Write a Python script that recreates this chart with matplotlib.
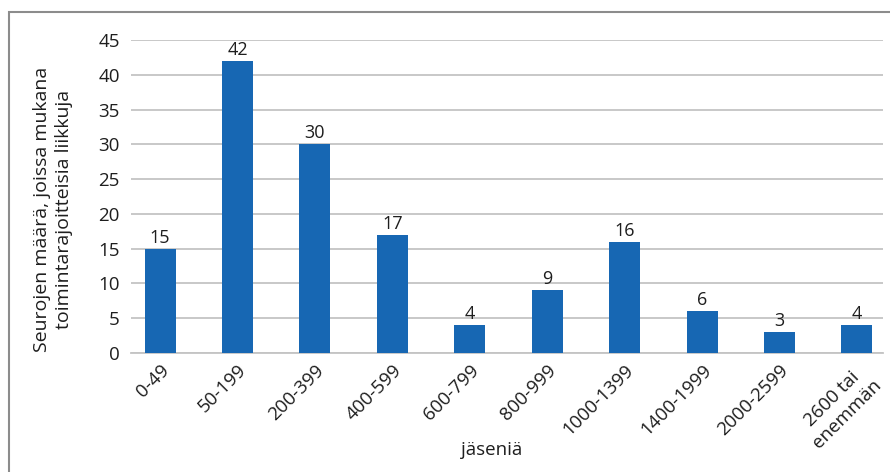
import matplotlib
matplotlib.use("Agg")
import matplotlib.pyplot as plt
from matplotlib.patches import Rectangle

categories = ["0-49", "50-199", "200-399", "400-599", "600-799", "800-999",
              "1000-1399", "1400-1999", "2000-2599", "2600 tai\nenemmän"]
values = [15, 42, 30, 17, 4, 9, 16, 6, 3, 4]
yticks = [0, 5, 10, 15, 20, 25, 30, 35, 40, 45]

plt.rcParams['font.family'] = ['Open Sans', 'DejaVu Sans']

W, H = 890, 472
fig = plt.figure(figsize=(W/100, H/100), dpi=100)
ax = fig.add_axes([131/W, 1-353/H, (883-131)/W, (353-40)/H])

txtc = "#1e1e1e"
color = "#1767B3"
x = list(range(len(categories)))
ax.bar(x, values, width=0.4, color=color, zorder=3)
for xi, v in zip(x, values):
    ax.text(xi, v + 0.3, str(v), ha="center", va="bottom", fontsize=13, color=txtc)

ax.set_xlim(-0.375, 9.336)
ax.set_ylim(0, 45)
ax.set_yticks(yticks)
ax.yaxis.grid(True, color="#c4c4c4", linewidth=1.3, zorder=0)
ax.set_axisbelow(True)
for s in ["top", "right", "left"]:
    ax.spines[s].set_visible(False)
ax.spines["bottom"].set_color("#c4c4c4")
ax.spines["bottom"].set_linewidth(1.3)
ax.tick_params(axis="both", length=0, labelsize=13.5, colors=txtc)
ax.tick_params(axis="y", pad=8)
ax.set_xticks(x)
ax.set_xticklabels(categories, rotation=45, ha="right", rotation_mode="anchor",
                   multialignment="center")
ax.tick_params(axis="x", pad=6)

fig.text(53/W, 1-209/H, "Seurojen määrä, joissa mukana\ntoimintarajoitteisia liikkuja",
         rotation=90, ha="center", va="center", fontsize=14, color=txtc,
         multialignment="center", linespacing=1.35)
fig.text(492/W, 1-450/H, "jäseniä", ha="center", va="center", fontsize=13.5, color=txtc)

fig.patches.append(Rectangle((9/W, -0.1), 1.2, 1.1 - 12/H, transform=fig.transFigure,
                             fill=False, edgecolor="#8c8c8c", linewidth=1.5))

fig.savefig("out.png", dpi=100)
